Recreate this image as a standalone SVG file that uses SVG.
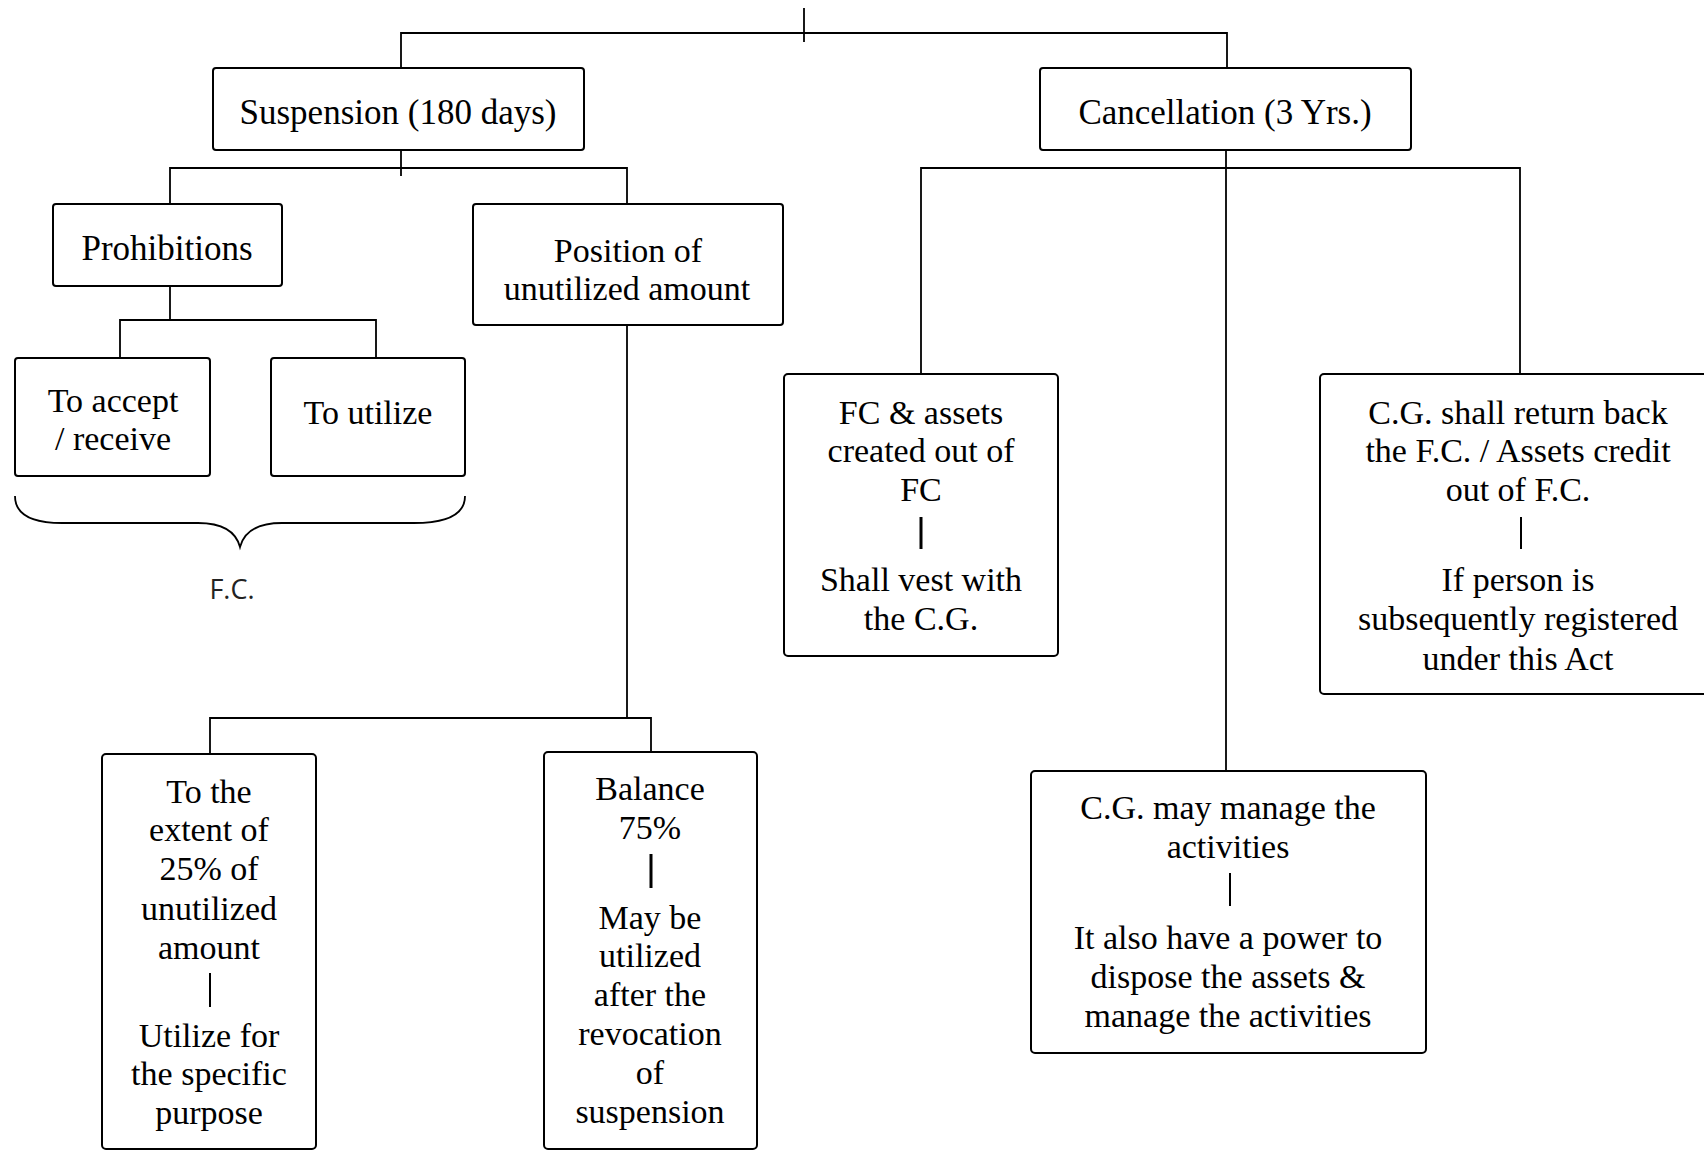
<svg xmlns="http://www.w3.org/2000/svg" width="1704" height="1151" viewBox="0 0 1704 1151">
  <style>
    .box { fill: #ffffff; stroke: #000000; stroke-width: 2; }
    .wire { fill: none; stroke: #000000; stroke-width: 1.8; }
    .bar { stroke: #000000; stroke-width: 2; }
    .bar-thick { stroke: #000000; stroke-width: 3; }
    .t { font-family: "Liberation Serif", "Times New Roman", serif; font-size: 34px; fill: #000000; text-anchor: middle; }
    .big { font-size: 35px; }
    .note { font-family: "Open Sans", "Noto Sans", sans-serif; font-size: 27px; fill: #222222; text-anchor: middle; }
  </style>
  <rect width="1704" height="1151" fill="#ffffff"/>

  <!-- tree connectors -->
  <g id="connectors">
    <path class="wire" d="M804 8 V42"/>
    <path class="wire" d="M401 68 V33 H1227 V68"/>
    <path class="wire" d="M401 142 V176"/>
    <path class="wire" d="M170 203 V168 H627 V204"/>
    <path class="wire" d="M170 286 V320"/>
    <path class="wire" d="M120 357 V320 H376 V358"/>
    <path class="wire" d="M627 325 V718"/>
    <path class="wire" d="M210 753 V718 H651 V752"/>
    <path class="wire" d="M1226 142 V779"/>
    <path class="wire" d="M921 374 V168 H1520 V374"/>
  </g>

  <g id="suspension">
    <rect class="box" x="213" y="68" width="371" height="82" rx="3"/>
    <text class="t big" x="398" y="124">Suspension (180 days)</text>
  </g>

  <g id="cancellation">
    <rect class="box" x="1040" y="68" width="371" height="82" rx="3"/>
    <text class="t big" x="1225" y="124">Cancellation (3 Yrs.)</text>
  </g>

  <g id="prohibitions">
    <rect class="box" x="53" y="204" width="229" height="82" rx="3"/>
    <text class="t big" x="167" y="260">Prohibitions</text>
  </g>

  <g id="position">
    <rect class="box" x="473" y="204" width="310" height="121" rx="3"/>
    <text class="t" x="628" y="262">Position of</text>
    <text class="t" x="627" y="300">unutilized amount</text>
  </g>

  <g id="to-accept">
    <rect class="box" x="15" y="358" width="195" height="118" rx="3"/>
    <text class="t" x="113" y="412">To accept</text>
    <text class="t" x="113" y="450">/ receive</text>
  </g>

  <g id="to-utilize">
    <rect class="box" x="271" y="358" width="194" height="118" rx="3"/>
    <text class="t" x="368" y="424">To utilize</text>
  </g>

  <!-- brace grouping the two prohibitions -->
  <g id="fc-brace">
    <path class="wire" d="M15 496 C15 514 30 523 62 523 H198 C222 523 236 532 240 547 C244 532 258 523 282 523 H414 C448 523 465 514 465 496"/>
    <text class="note" x="232" y="599">F.C.</text>
  </g>

  <g id="fc-assets">
    <rect class="box" x="784" y="374" width="274" height="282" rx="4"/>
    <text class="t" x="921" y="424">FC &amp; assets</text>
    <text class="t" x="921" y="462">created out of</text>
    <text class="t" x="921" y="501">FC</text>
    <line class="bar-thick" x1="921" y1="517" x2="921" y2="549"/>
    <text class="t" x="921" y="591">Shall vest with</text>
    <text class="t" x="921" y="630">the C.G.</text>
  </g>

  <g id="cg-return">
    <rect class="box" x="1320" y="374" width="420" height="320" rx="4"/>
    <text class="t" x="1518" y="424">C.G. shall return back</text>
    <text class="t" x="1518" y="462">the F.C. / Assets credit</text>
    <text class="t" x="1518" y="501">out of F.C.</text>
    <line class="bar" x1="1521" y1="517" x2="1521" y2="549"/>
    <text class="t" x="1518" y="591">If person is</text>
    <text class="t" x="1518" y="630">subsequently registered</text>
    <text class="t" x="1518" y="670">under this Act</text>
  </g>

  <g id="cg-manage">
    <rect class="box" x="1031" y="771" width="395" height="282" rx="4"/>
    <text class="t" x="1228" y="819">C.G. may manage the</text>
    <text class="t" x="1228" y="858">activities</text>
    <line class="bar" x1="1230" y1="873" x2="1230" y2="906"/>
    <text class="t" x="1228" y="949">It also have a power to</text>
    <text class="t" x="1228" y="988">dispose the assets &amp;</text>
    <text class="t" x="1228" y="1027">manage the activities</text>
  </g>

  <g id="quarter-share">
    <rect class="box" x="102" y="754" width="214" height="395" rx="4"/>
    <text class="t" x="209" y="803">To the</text>
    <text class="t" x="209" y="841">extent of</text>
    <text class="t" x="209" y="880">25% of</text>
    <text class="t" x="209" y="920">unutilized</text>
    <text class="t" x="209" y="959">amount</text>
    <line class="bar" x1="210" y1="973" x2="210" y2="1007"/>
    <text class="t" x="209" y="1047">Utilize for</text>
    <text class="t" x="209" y="1085">the specific</text>
    <text class="t" x="209" y="1124">purpose</text>
  </g>

  <g id="balance-share">
    <rect class="box" x="544" y="752" width="213" height="397" rx="4"/>
    <text class="t" x="650" y="800">Balance</text>
    <text class="t" x="650" y="839">75%</text>
    <line class="bar-thick" x1="651" y1="854" x2="651" y2="888"/>
    <text class="t" x="650" y="929">May be</text>
    <text class="t" x="650" y="967">utilized</text>
    <text class="t" x="650" y="1006">after the</text>
    <text class="t" x="650" y="1045">revocation</text>
    <text class="t" x="650" y="1084">of</text>
    <text class="t" x="650" y="1123">suspension</text>
  </g>
</svg>
